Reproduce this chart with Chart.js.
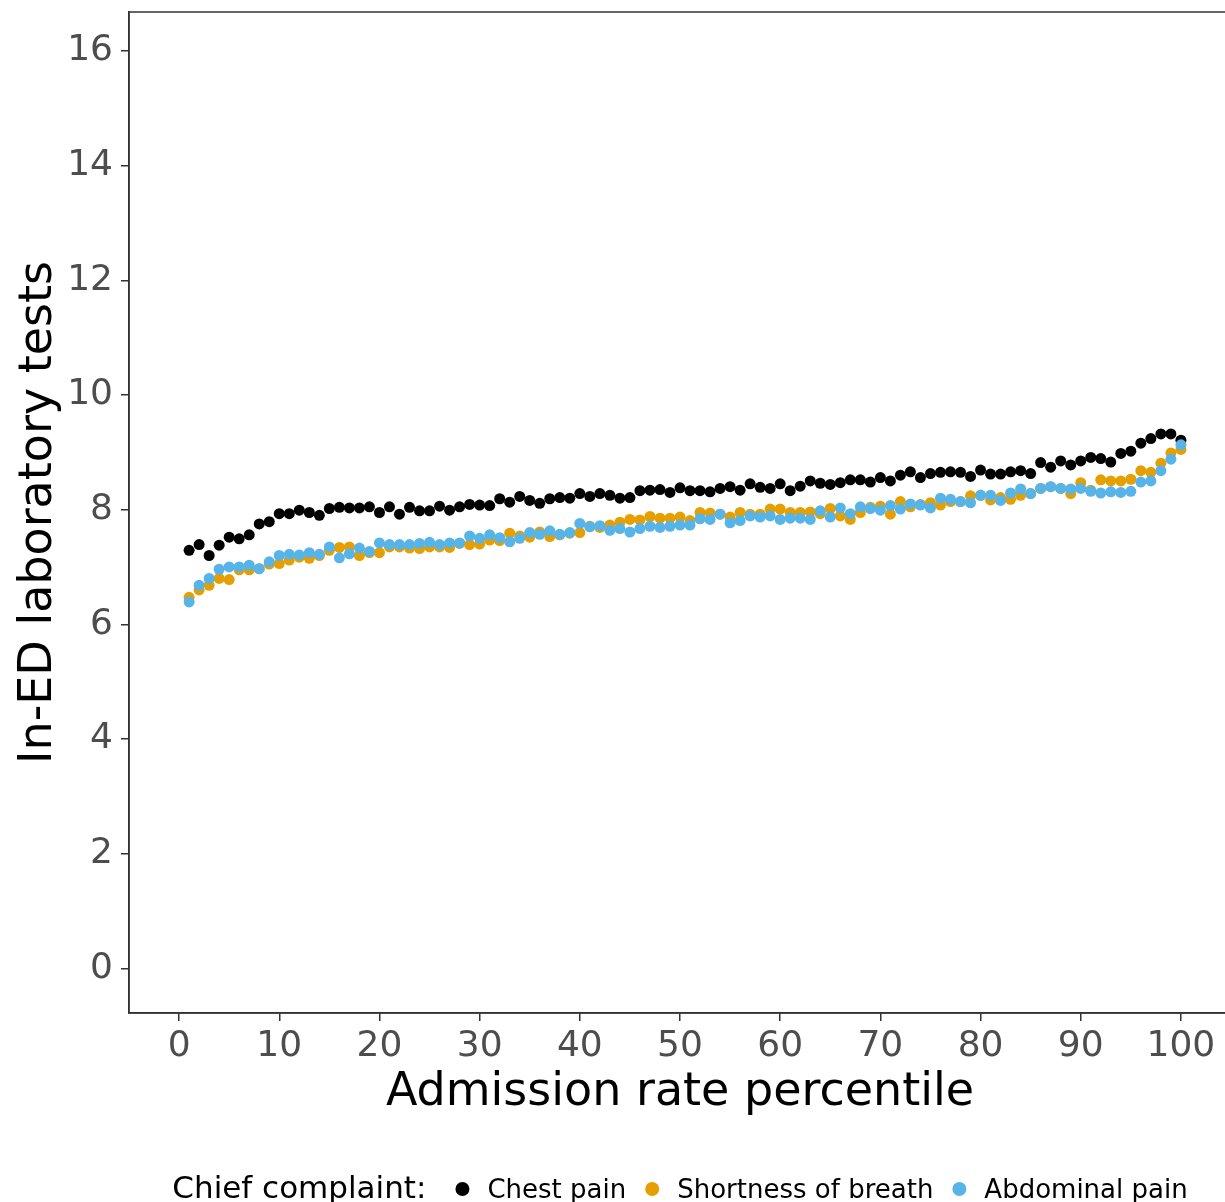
<!DOCTYPE html>
<html>
<head>
<meta charset="utf-8">
<script src="https://cdn.jsdelivr.net/npm/chart.js@4.4.1/dist/chart.umd.min.js"></script>
<style>
  html, body { margin: 0; padding: 0; background: #fff; overflow: hidden; }
  #wrap { width: 1225px; height: 1202px; overflow: hidden; }
  canvas { display: block; }
</style>
</head>
<body>
<div id="wrap"><canvas id="chart" width="1240" height="1202"></canvas></div>
<script>
// Données
const percentiles = [
  1, 2, 3, 4, 5, 6, 7, 8, 9, 10, 11, 12, 13, 14, 15, 16, 17, 18, 19, 20,
  21, 22, 23, 24, 25, 26, 27, 28, 29, 30, 31, 32, 33, 34, 35, 36, 37, 38, 39, 40,
  41, 42, 43, 44, 45, 46, 47, 48, 49, 50, 51, 52, 53, 54, 55, 56, 57, 58, 59, 60,
  61, 62, 63, 64, 65, 66, 67, 68, 69, 70, 71, 72, 73, 74, 75, 76, 77, 78, 79, 80,
  81, 82, 83, 84, 85, 86, 87, 88, 89, 90, 91, 92, 93, 94, 95, 96, 97, 98, 99, 100
];

const chestPain = [
  7.29, 7.39, 7.20, 7.38, 7.52, 7.49, 7.56, 7.75, 7.79, 7.93,
  7.93, 7.99, 7.95, 7.90, 8.02, 8.04, 8.03, 8.03, 8.05, 7.95,
  8.05, 7.92, 8.04, 7.98, 7.98, 8.06, 7.99, 8.05, 8.09, 8.08,
  8.07, 8.19, 8.13, 8.23, 8.16, 8.11, 8.19, 8.21, 8.20, 8.28,
  8.23, 8.28, 8.25, 8.20, 8.21, 8.33, 8.34, 8.35, 8.30, 8.38,
  8.33, 8.33, 8.31, 8.37, 8.40, 8.34, 8.45, 8.39, 8.37, 8.45,
  8.33, 8.41, 8.50, 8.46, 8.44, 8.47, 8.52, 8.52, 8.48, 8.56,
  8.50, 8.60, 8.66, 8.56, 8.63, 8.65, 8.66, 8.65, 8.58, 8.69,
  8.62, 8.62, 8.66, 8.68, 8.63, 8.82, 8.74, 8.85, 8.78, 8.85,
  8.91, 8.89, 8.83, 8.98, 9.02, 9.16, 9.24, 9.32, 9.32, 9.21
];

const shortnessOfBreath = [
  6.47, 6.60, 6.68, 6.80, 6.78, 6.95, 6.95, 6.97, 7.05, 7.06,
  7.12, 7.17, 7.15, 7.20, 7.29, 7.34, 7.35, 7.20, 7.25, 7.25,
  7.35, 7.35, 7.33, 7.32, 7.35, 7.35, 7.34, 7.41, 7.39, 7.40,
  7.47, 7.46, 7.59, 7.54, 7.52, 7.61, 7.53, 7.56, 7.59, 7.60,
  7.71, 7.69, 7.73, 7.78, 7.83, 7.82, 7.88, 7.85, 7.85, 7.87,
  7.81, 7.95, 7.94, 7.92, 7.87, 7.95, 7.92, 7.92, 8.01, 8.01,
  7.95, 7.95, 7.96, 7.93, 8.02, 7.89, 7.83, 7.95, 8.04, 8.06,
  7.92, 8.14, 8.05, 8.09, 8.12, 8.08, 8.14, 8.14, 8.24, 8.25,
  8.17, 8.21, 8.18, 8.25, 8.28, 8.37, 8.40, 8.37, 8.28, 8.47,
  8.34, 8.52, 8.50, 8.50, 8.53, 8.68, 8.65, 8.81, 8.99, 9.05
];

const abdominalPain = [
  6.39, 6.68, 6.80, 6.96, 7.00, 7.00, 7.03, 6.97, 7.09, 7.20,
  7.22, 7.21, 7.25, 7.22, 7.35, 7.16, 7.23, 7.33, 7.27, 7.42,
  7.39, 7.39, 7.39, 7.41, 7.43, 7.39, 7.42, 7.42, 7.54, 7.50,
  7.56, 7.51, 7.44, 7.50, 7.60, 7.57, 7.63, 7.57, 7.60, 7.76,
  7.70, 7.72, 7.64, 7.67, 7.61, 7.67, 7.71, 7.69, 7.71, 7.73,
  7.73, 7.84, 7.83, 7.92, 7.77, 7.81, 7.89, 7.87, 7.89, 7.83,
  7.85, 7.85, 7.83, 7.98, 7.87, 8.03, 7.93, 8.05, 8.02, 7.99,
  8.07, 8.01, 8.10, 8.08, 8.03, 8.20, 8.18, 8.14, 8.12, 8.25,
  8.25, 8.16, 8.29, 8.36, 8.28, 8.37, 8.40, 8.37, 8.36, 8.37,
  8.32, 8.29, 8.31, 8.30, 8.32, 8.48, 8.50, 8.68, 8.88, 9.13
];

const seriesLabels = ['Chest pain', 'Shortness of breath', 'Abdominal pain'];
const seriesColors = ['#000000', '#E69F00', '#56B4E9'];
const xTicks = [0, 10, 20, 30, 40, 50, 60, 70, 80, 90, 100];
const yTicks = [0, 2, 4, 6, 8, 10, 12, 14, 16];

const xTitle = 'Admission rate percentile';
const yTitle = 'In-ED laboratory tests';
const legendTitle = 'Chief complaint:';

const FONT = '"DejaVu Sans", sans-serif';
const AXIS = '#333333';

function toPoints(values) {
  return values.map((v, i) => ({ x: percentiles[i], y: v }));
}

// Titres d'axes, cadre et légende façon ggplot
const decorPlugin = {
  id: 'decor',
  afterDraw(chart) {
    const { ctx, chartArea } = chart;
    const cx = (chartArea.left + chartArea.right) / 2;
    const cy = (chartArea.top + chartArea.bottom) / 2;
    ctx.save();

    // cadre du panneau
    ctx.strokeStyle = AXIS;
    ctx.lineWidth = 1.5;
    ctx.strokeRect(chartArea.left, chartArea.top, chartArea.right - chartArea.left, chartArea.bottom - chartArea.top);

    // titres des axes
    ctx.fillStyle = '#000';
    ctx.font = '46px ' + FONT;
    ctx.textAlign = 'center';
    ctx.textBaseline = 'alphabetic';
    ctx.fillText(xTitle, cx, 1105);
    ctx.save();
    ctx.translate(51, cy);
    ctx.rotate(-Math.PI / 2);
    ctx.fillText(yTitle, 0, 0);
    ctx.restore();

    // légende en bas
    const baseY = 1198;
    const dotY = 1189;
    const r = 7;
    ctx.font = '31px ' + FONT;
    const titleW = ctx.measureText(legendTitle).width;
    ctx.font = '26px ' + FONT;
    const widths = seriesLabels.map(l => ctx.measureText(l).width);
    let total = titleW + 29;
    widths.forEach((w, i) => {
      total += 2 * r + 18 + w;
      if (i < widths.length - 1) total += 19;
    });
    let x = cx - total / 2;
    ctx.textAlign = 'left';
    ctx.font = '31px ' + FONT;
    ctx.fillText(legendTitle, x, baseY);
    x += titleW + 29;
    ctx.font = '26px ' + FONT;
    seriesLabels.forEach((label, i) => {
      ctx.fillStyle = seriesColors[i];
      ctx.beginPath();
      ctx.arc(x + r, dotY, r, 0, Math.PI * 2);
      ctx.fill();
      x += 2 * r + 18;
      ctx.fillStyle = '#000';
      ctx.fillText(label, x, baseY);
      x += widths[i] + 19;
    });
    ctx.restore();
  }
};

const ctx = document.getElementById('chart').getContext('2d');
new Chart(ctx, {
  type: 'scatter',
  data: {
    datasets: [chestPain, shortnessOfBreath, abdominalPain].map((vals, i) => ({
      label: seriesLabels[i],
      data: toPoints(vals),
      backgroundColor: seriesColors[i],
      borderColor: seriesColors[i],
      borderWidth: 0,
      pointRadius: 5.5,
      order: 3 - i
    }))
  },
  options: {
    responsive: false,
    devicePixelRatio: 1,
    animation: false,
    layout: { padding: { top: 12, right: 9, left: 0, bottom: 0 } },
    plugins: {
      legend: { display: false },
      tooltip: { enabled: false }
    },
    scales: {
      x: {
        type: 'linear',
        min: -5,
        max: 105,
        afterBuildTicks: scale => { scale.ticks = xTicks.map(v => ({ value: v })); },
        afterFit: scale => {
          scale.height = 189;
          scale.paddingLeft = 0;
          scale.paddingRight = 0;
        },
        ticks: {
          color: '#4D4D4D',
          font: { family: FONT, size: 36 },
          padding: 4,
          maxRotation: 0,
          autoSkip: false
        },
        grid: { drawOnChartArea: false, drawTicks: true, tickLength: 8, color: AXIS, lineWidth: 1.5 },
        border: { display: true, color: AXIS, width: 1.5 }
      },
      y: {
        min: -0.78,
        max: 16.68,
        afterBuildTicks: scale => { scale.ticks = yTicks.map(v => ({ value: v })); },
        afterFit: scale => {
          scale.width = 129;
          scale.paddingTop = 0;
          scale.paddingBottom = 0;
        },
        ticks: {
          color: '#4D4D4D',
          font: { family: FONT, size: 36 },
          padding: 8,
          autoSkip: false
        },
        grid: { drawOnChartArea: false, drawTicks: true, tickLength: 8, color: AXIS, lineWidth: 1.5 },
        border: { display: true, color: AXIS, width: 1.5 }
      }
    }
  },
  plugins: [decorPlugin]
});
</script>
</body>
</html>
